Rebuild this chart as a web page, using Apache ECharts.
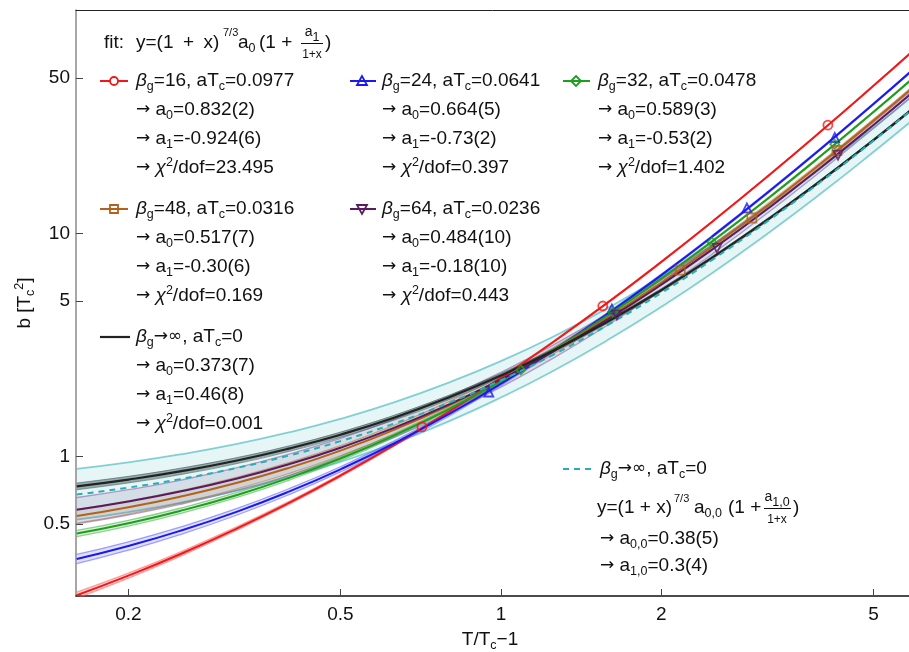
<!DOCTYPE html>
<html><head><meta charset="utf-8">
<script src="https://cdn.jsdelivr.net/npm/echarts@6/dist/echarts.min.js"></script>
<style>html,body{margin:0;padding:0;background:#fff}#c{width:909px;height:652px}</style>
</head><body><div id="c"></div>
<script>
// ---- data ----
const xs = [0.16,0.2,0.25,0.32,0.4,0.5,0.63,0.8,1.0,1.25,1.6,2.0,2.5,3.2,4.0,5.0,5.85];

const red     = [0.2393,0.2928,0.3652,0.4771,0.6202,0.8229,1.127,1.596,2.256,3.253,4.985,7.473,11.39,18.47,28.99,46.04,64.14];
const redLo   = [0.2319,0.2852,0.3572,0.4685,0.6109,0.8122,1.1146,1.5816,2.2391,3.2335,4.9601,7.4431,11.344,18.396,28.874,45.856,63.883];
const redHi   = [0.2467,0.3004,0.3732,0.4857,0.6295,0.8336,1.1394,1.6104,2.2729,3.2725,5.0099,7.5029,11.436,18.544,29.106,46.224,64.397];

const blue    = [0.3480,0.3980,0.4649,0.5673,0.6968,0.8779,1.146,1.556,2.125,2.976,4.439,6.522,9.774,15.61,24.24,38.15,52.87];
const blueLo  = [0.3316,0.3808,0.4467,0.5476,0.6753,0.8542,1.1195,1.5244,2.0880,2.9308,4.381,6.446,9.671,15.465,24.025,37.83,52.43];
const blueHi  = [0.3644,0.4152,0.4832,0.5869,0.7182,0.9016,1.1734,1.5869,2.1619,3.0207,4.497,6.597,9.877,15.762,24.457,38.47,53.30];

const green   = [0.4523,0.5032,0.5711,0.6737,0.8025,0.9810,1.243,1.638,2.182,2.987,4.359,6.295,9.296,14.65,22.51,35.13,48.43];
const greenLo = [0.4377,0.4880,0.5549,0.6564,0.7837,0.9602,1.2194,1.6107,2.1501,2.949,4.311,6.234,9.217,14.538,22.357,34.905,48.137];
const greenHi = [0.4668,0.5185,0.5872,0.6911,0.8214,1.0018,1.2664,1.6651,2.2134,3.025,4.406,6.355,9.375,14.758,22.663,35.348,48.718];

const brown   = [0.5419,0.5933,0.6614,0.7636,0.8907,1.065,1.319,1.698,2.215,2.972,4.251,6.040,8.792,13.66,20.78,32.13,44.05];
const brownLo = [0.5034,0.5530,0.6186,0.7175,0.8406,1.0101,1.2569,1.6264,2.1310,2.8725,4.1263,5.8826,8.588,13.383,20.389,31.577,43.336];
const brownHi = [0.5804,0.6337,0.7041,0.8097,0.9407,1.1205,1.3812,1.7697,2.2984,3.0723,4.3762,6.1966,8.995,13.943,21.162,32.682,44.772];

const purple   = [0.5781,0.6295,0.6974,0.7989,0.9248,1.097,1.346,1.717,2.220,2.954,4.188,5.905,8.539,13.18,19.95,30.71,42.00];
const purpleLo = [0.5001,0.5477,0.6109,0.7055,0.8231,0.9851,1.2197,1.5709,2.0510,2.7530,3.9363,5.5924,8.1376,12.631,19.188,29.637,40.612];
const purpleHi = [0.6561,0.7114,0.7838,0.8924,1.0265,1.2089,1.4728,1.8628,2.3884,3.1548,4.4388,6.2184,8.9403,13.738,20.704,31.786,43.384];

const black   = [0.7365,0.7896,0.8589,0.9613,1.087,1.255,1.495,1.846,2.312,2.980,4.081,5.584,7.849,11.78,17.41,26.27,35.47];
const blackLo = [0.7107,0.7627,0.8305,0.9315,1.0551,1.2214,1.4581,1.8034,2.2636,2.9237,4.0112,5.4946,7.7315,11.614,17.186,25.956,35.046];
const blackHi = [0.7623,0.8164,0.8872,0.9912,1.1181,1.2892,1.5329,1.8883,2.3607,3.0369,4.1500,5.6733,7.9670,11.944,17.639,26.586,35.898];

const cyan    = [0.6762,0.7269,0.7931,0.8914,1.012,1.174,1.407,1.747,2.202,2.857,3.940,5.426,7.673,11.59,17.22,26.10,35.35];
const cyanLo  = [0.5220,0.5648,0.6206,0.7042,0.8069,0.9472,1.1480,1.4433,1.8423,2.4170,3.3764,4.6986,6.6989,10.209,15.256,23.243,31.564];
const cyanHi  = [0.8817,0.9427,1.0231,1.1409,1.2849,1.4775,1.7516,2.1527,2.6825,3.4426,4.6923,6.3968,8.9702,13.430,19.837,29.912,40.401];

const redPtsX = [0.711,1.553,4.107];          const redPtsY = [1.36,4.74,30.7];
const bluePtsX = [0.949,1.615,2.894,4.23];    const bluePtsY = [1.95,4.59,13.04,27.0];
const greenPtsX = [1.09,1.62,2.488,4.23];     const greenPtsY = [2.45,4.44,9.16,25.2];
const brownPtsX = [2.17,2.957,4.27];          const brownPtsY = [6.87,11.76,23.6];
const purplePtsX = [1.65,2.543,4.29];         const purplePtsY = [4.32,8.61,22.5];

const xTicks = [0.2,0.5,1,2,5];   const xTickLabels = ['0.2','0.5','1','2','5'];
const yTicks = [0.5,1,5,10,50];   const yTickLabels = ['0.5','1','5','10','50'];
const X_MIN = 0.1595, X_MAX = 5.83, Y_MIN = 0.2373, Y_MAX = 100.7;

// ---- styling ----
const FF = '"Liberation Sans", Arial, Helvetica, sans-serif';
const FA = '"DejaVu Sans", sans-serif';
const FS = 19;
const C = {red:'#f21818', blue:'#1a1aef', green:'#1e9e1e', brown:'#b2621c', purple:'#5a1a60', black:'#222222', cyan:'#2aaeb4'};
const L = v => Math.log10(v);
const pts = (xa, ya) => xa.map((x,i)=>[L(x), L(ya[i])]);

const series = [];
function band(lo, hi, fill, edge, edgeW, z){
  series.push({
    type:'custom', coordinateSystem:'cartesian2d', clip:true, silent:true, z:z,
    data:[[L(xs[0]), L(lo[0])]],
    renderItem:(params, api)=>{
      const p = [];
      for (let i=0;i<xs.length;i++) p.push(api.coord([L(xs[i]), L(hi[i])]));
      for (let i=xs.length-1;i>=0;i--) p.push(api.coord([L(xs[i]), L(lo[i])]));
      return {type:'polygon', shape:{points:p}, style:{fill:fill}};
    }
  });
  [lo, hi].forEach(arr=>series.push({
    type:'line', data:pts(xs, arr), showSymbol:false, smooth:true, clip:true, silent:true, z:z,
    lineStyle:{color:edge, width:edgeW}
  }));
}
function curve(vals, color, width, dash, z){
  series.push({type:'line', data:pts(xs, vals), showSymbol:false, smooth:true, clip:true, silent:true, z:z,
    lineStyle:{color:color, width:width, type: dash || 'solid'}});
}
function marks(px, py, color, symbol, rot){
  series.push({type:'scatter', data:pts(px, py), symbol:symbol, symbolRotate:rot||0, symbolSize:9, silent:true, z:20, clip:true,
    itemStyle:{color:'rgba(0,0,0,0)', borderColor:color, borderWidth:1.8}});
}

band(cyanLo, cyanHi, 'rgba(130,210,210,0.2)', 'rgba(110,200,205,0.85)', 1.8, 2);
band(redLo, redHi, 'rgba(255,90,90,0.25)', 'rgba(255,90,90,0.55)', 1.3, 3);
band(blueLo, blueHi, 'rgba(90,90,255,0.18)', 'rgba(90,90,255,0.55)', 1.3, 3);
band(greenLo, greenHi, 'rgba(60,180,60,0.18)', 'rgba(60,180,60,0.55)', 1.3, 3);
band(brownLo, brownHi, 'rgba(178,98,28,0.08)', 'rgba(178,98,28,0.45)', 1.2, 3);
band(purpleLo, purpleHi, 'rgba(90,60,120,0.13)', 'rgba(140,100,170,0.6)', 1.3, 3);
band(blackLo, blackHi, 'rgba(50,80,80,0.45)', 'rgba(50,80,80,0.5)', 1, 4);

curve(red, C.red, 2, null, 6);
curve(blue, C.blue, 2, null, 6);
curve(green, C.green, 2, null, 6);
curve(brown, C.brown, 2, null, 6);
curve(purple, C.purple, 2, null, 6);
curve(black, C.black, 2.2, null, 7);
curve(cyan, C.cyan, 2, [6,5], 8);

marks(redPtsX, redPtsY, C.red, 'circle');
marks(bluePtsX, bluePtsY, C.blue, 'triangle');
marks(greenPtsX, greenPtsY, C.green, 'diamond');
marks(brownPtsX, brownPtsY, C.brown, 'rect');
marks(purplePtsX, purplePtsY, C.purple, 'triangle', 180);

// ---- text / legend ----
const RICH = {
  i:{fontStyle:'italic', fontSize:FS, fontFamily:FF, lineHeight:24, fill:'#111'},
  a:{fontSize:17, fontFamily:FA, lineHeight:24, fill:'#111'},
  s:{fontSize:12.5, fontFamily:FF, lineHeight:12, verticalAlign:'bottom', fill:'#111'},
  p:{fontSize:12.5, fontFamily:FF, lineHeight:14, verticalAlign:'top', fill:'#111'}
};
function txt(x, y, text, o){
  return {type:'text', x:x, y:y, silent:true, z:100, rotation:(o&&o.rot)||0,
    style:{text:text, fontSize:(o&&o.fs)||FS, fontFamily:FF, fill:'#111', align:(o&&o.align)||'left', verticalAlign:'middle', lineHeight:24, rich:RICH}};
}
function hline(x1, x2, y, color, w, dash){
  return {type:'line', silent:true, z:100, shape:{x1:x1,y1:y,x2:x2,y2:y}, style:{stroke:color, lineWidth:w, lineDash:dash||null}};
}
function poly(points, color){
  return {type:'polygon', silent:true, z:101, shape:{points:points}, style:{fill:'none', stroke:color, lineWidth:1.8}};
}
const G = [];
// fit formula
G.push(txt(104, 43, 'fit:'));
G.push(txt(136, 43, 'y=(1\u2002+\u2002x)'));
G.push(txt(223, 33, '7/3', {fs:11}));
G.push(txt(238, 43, 'a{s|0}'));
G.push(txt(259, 43, '(1 +'));
G.push(txt(312, 32, 'a{s|1}', {fs:14, align:'center'}));
G.push(hline(301, 323, 43.5, '#111', 1));
G.push(txt(312, 55, '1+x', {fs:12, align:'center'}));
G.push(txt(325, 43, ')'));

function entry(x, ys, lines){ lines.forEach((t,k)=>G.push(txt(x, ys[k], t))); }
const row1 = [81,110,139,168], row2 = [209,238,267,296], row3 = [337,366,395,424];
const AR = '{a|→}';
// red
G.push(hline(100,128,81,C.red,2)); G.push({type:'circle', silent:true, z:101, shape:{cx:114, cy:81, r:4}, style:{fill:'#fff', stroke:C.red, lineWidth:1.8}});
entry(136, row1, ['{i|β}{s|g}=16, aT{s|c}=0.0977', AR+' a{s|0}=0.832(2)', AR+' a{s|1}=-0.924(6)', AR+' {i|χ}{p|2}/dof=23.495']);
// blue
G.push(hline(350,376,81,C.blue,2)); G.push(poly([[362,76],[357,85],[367,85]], C.blue));
entry(382, row1, ['{i|β}{s|g}=24, aT{s|c}=0.0641', AR+' a{s|0}=0.664(5)', AR+' a{s|1}=-0.73(2)', AR+' {i|χ}{p|2}/dof=0.397']);
// green
G.push(hline(563,590,81,C.green,2)); G.push(poly([[576,76],[581,81],[576,86],[571,81]], C.green));
entry(598, row1, ['{i|β}{s|g}=32, aT{s|c}=0.0478', AR+' a{s|0}=0.589(3)', AR+' a{s|1}=-0.53(2)', AR+' {i|χ}{p|2}/dof=1.402']);
// brown
G.push(hline(100,128,209,C.brown,2)); G.push(poly([[110,205],[118,205],[118,213],[110,213]], C.brown));
entry(136, row2, ['{i|β}{s|g}=48, aT{s|c}=0.0316', AR+' a{s|0}=0.517(7)', AR+' a{s|1}=-0.30(6)', AR+' {i|χ}{p|2}/dof=0.169']);
// purple
G.push(hline(350,376,209,C.purple,2)); G.push(poly([[357,205],[367,205],[362,214]], C.purple));
entry(382, row2, ['{i|β}{s|g}=64, aT{s|c}=0.0236', AR+' a{s|0}=0.484(10)', AR+' a{s|1}=-0.18(10)', AR+' {i|χ}{p|2}/dof=0.443']);
// black
G.push(hline(100,130,337,C.black,2.2));
entry(136, row3, ['{i|β}{s|g}{a|→∞}, aT{s|c}=0', AR+' a{s|0}=0.373(7)', AR+' a{s|1}=0.46(8)', AR+' {i|χ}{p|2}/dof=0.001']);
// cyan dashed
G.push(hline(563,593,469,C.cyan,2,[6,5]));
G.push(txt(600, 469, '{i|β}{s|g}{a|→∞}, aT{s|c}=0'));
G.push(txt(597, 508, 'y=(1 + x)'));
G.push(txt(674, 499, '7/3', {fs:11}));
G.push(txt(694, 508, 'a{s|0,0}'));
G.push(txt(728, 508, '(1 +'));
G.push(txt(777, 497, 'a{s|1,0}', {fs:14, align:'center'}));
G.push(hline(764, 791, 508.5, '#111', 1));
G.push(txt(777, 520, '1+x', {fs:12, align:'center'}));
G.push(txt(793, 508, ')'));
G.push(txt(600, 539, AR+' a{s|0,0}=0.38(5)'));
G.push(txt(600, 566, AR+' a{s|1,0}=0.3(4)'));
// axis titles
G.push(txt(490, 640, 'T/T{s|c}−1', {align:'center'}));
G.push(txt(25, 303, 'b [T{s|c}{p|2}]', {align:'center', rot:Math.PI/2}));

const lab = (ticks, labels) => v => { for (let i=0;i<ticks.length;i++) if (Math.abs(L(ticks[i])-v) < 1e-6) return labels[i]; return ''; };

const chart = echarts.init(document.getElementById('c'), null, {renderer:'canvas'});
chart.setOption({
  animation:false,
  backgroundColor:'#fff',
  grid:{left:76, right:0, top:10, bottom:56, containLabel:false, outerBoundsMode:'none'},
  xAxis:[{
    type:'value', min:L(X_MIN), max:L(X_MAX), position:'bottom',
    axisLine:{show:true, onZero:false, lineStyle:{color:'#111', width:1.5}},
    axisTick:{show:true, inside:true, length:7, customValues:xTicks.map(L), lineStyle:{color:'#444', width:1}},
    axisLabel:{show:true, customValues:xTicks.map(L), formatter:lab(xTicks, xTickLabels), fontSize:FS, fontFamily:FF, color:'#111', margin:9},
    splitLine:{show:false}
  },{
    type:'value', min:L(X_MIN), max:L(X_MAX), position:'top',
    axisLine:{show:true, onZero:false, lineStyle:{color:'#222', width:1}},
    axisTick:{show:false}, axisLabel:{show:false}, splitLine:{show:false}
  }],
  yAxis:{
    type:'value', min:L(Y_MIN), max:L(Y_MAX),
    axisLine:{show:true, onZero:false, lineStyle:{color:'#888', width:1.5}},
    axisTick:{show:true, inside:true, length:7, customValues:yTicks.map(L), lineStyle:{color:'#444', width:1}},
    axisLabel:{show:true, customValues:yTicks.map(L), formatter:lab(yTicks, yTickLabels), fontSize:FS, fontFamily:FF, color:'#111', margin:6},
    splitLine:{show:false}
  },
  series:series,
  graphic:G
});
</script></body></html>
